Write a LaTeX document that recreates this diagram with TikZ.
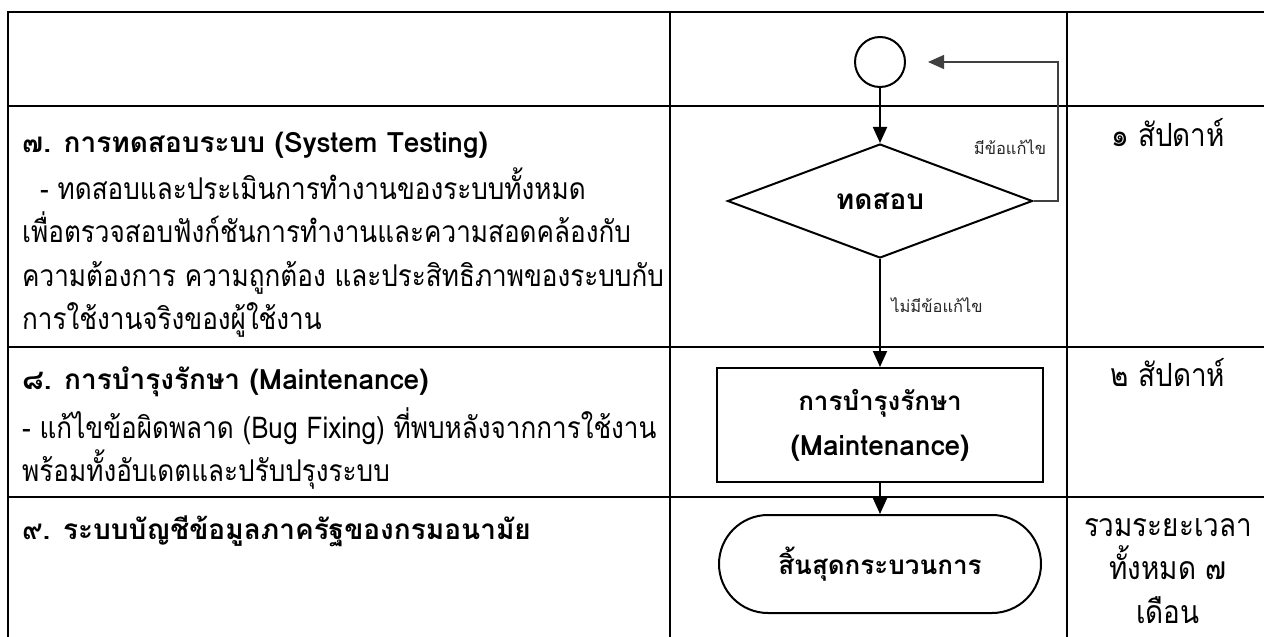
\documentclass[tikz,border=0pt]{standalone}
\usepackage{fontspec}
\setmainfont[Script=Thai]{Loma}
\newfontfamily\narrowthai[Script=Thai, FakeStretch=0.87]{Loma}
\usetikzlibrary{arrows.meta,shapes.geometric,shapes.misc}

\begin{document}
\begin{tikzpicture}[x=1pt,y=-1pt,
  grid/.style={line width=2.2pt, line cap=rect},
  flow/.style={draw, line width=2pt, inner sep=0pt, align=center,
    font=\fontsize{26}{45}\selectfont\bfseries},
  link/.style={line width=1.8pt, -{Triangle[width=14pt,length=16pt]}},
  back/.style={line width=1.2pt, draw=black!75, -{Triangle[width=14pt,length=16pt]}},
  head/.style={anchor=base west, inner sep=0pt, font=\fontsize{28}{32}\selectfont\bfseries},
  body/.style={anchor=base west, inner sep=0pt, font=\narrowthai\fontsize{30}{34}\selectfont},
  note/.style={inner sep=0pt, font=\fontsize{16.5}{20}\selectfont, text=black!85},
  span/.style={anchor=base, inner sep=0pt, font=\narrowthai\fontsize{32}{36}\selectfont}
]
\useasboundingbox (0,0) rectangle (1264,637);

% table frame and rows
\draw[grid] (1264,12) -- (8,12) -- (8,637);
\draw[grid] (8,106) -- (1264,106);
\draw[grid] (8,347) -- (1264,347);
\draw[grid] (8,497) -- (1264,497);
\draw[grid] (670,12) -- (670,637);
\draw[grid] (1067,12) -- (1067,637);

% step descriptions
\node[head] (h7) at (22,152) {๗. การทดสอบระบบ (System Testing)};
\node[body] (b7a) at (40,199) {- ทดสอบและประเมินการทำงานของระบบทั้งหมด};
\node[body] (b7b) at (22,242) {เพื่อตรวจสอบฟังก์ชันการทำงานและความสอดคล้องกับ};
\node[body] (b7c) at (22,286) {ความต้องการ ความถูกต้อง และประสิทธิภาพของระบบกับ};
\node[body] (b7d) at (22,329) {การใช้งานจริงของผู้ใช้งาน};

\node[head] (h8) at (22,389) {๘. การบำรุงรักษา (Maintenance)};
\node[body] (b8a) at (22,438) {- แก้ไขข้อผิดพลาด (Bug Fixing) ที่พบหลังจากการใช้งาน};
\node[body] (b8b) at (22,481) {พร้อมทั้งอับเดตและปรับปรุงระบบ};

\node[head] (h9) at (22,539) {๙. ระบบบัญชีข้อมูลภาครัฐของกรมอนามัย};

% durations
\node[span] (d7) at (1168,146) {๑ สัปดาห์};
\node[span] (d8) at (1168,386) {๒ สัปดาห์};
\node[span] (d9a) at (1168,536) {รวมระยะเวลา};
\node[span] (d9b) at (1168,579) {ทั้งหมด ๗};
\node[span] (d9c) at (1168,623) {เดือน};

% flow chart
\node[circle, flow, minimum size=50pt] (start) at (880,62) {};
\node[diamond, flow, aspect=2.68, minimum width=305pt, minimum height=114pt,
  font=\fontsize{28}{32}\selectfont\bfseries] (test) at (880,201) {ทดสอบ};
\node[rectangle, flow, minimum width=326pt, minimum height=114pt] (maint) at (880,425)
  {การบำรุงรักษา\\{\fontsize{28}{45}\selectfont(Maintenance)}};
\node[rounded rectangle, flow, minimum width=322pt, minimum height=98pt] (stop) at (880,564) {สิ้นสุดกระบวนการ};

\coordinate (loopR) at (1058,201);
\coordinate (loopT) at (1058,62);
\coordinate (loopIn) at (928,62);

\draw[link] (start) -- (test);
\draw[link] (test) -- (maint);
\draw[link] (maint) -- (stop);
\draw[back] (test.east) -- (loopR) -- (loopT) -- (loopIn);

\node[note] (yes) at (1010,147) {มีข้อแก้ไข};
\node[note] (no) at (937,305) {ไม่มีข้อแก้ไข};
\end{tikzpicture}
\end{document}
